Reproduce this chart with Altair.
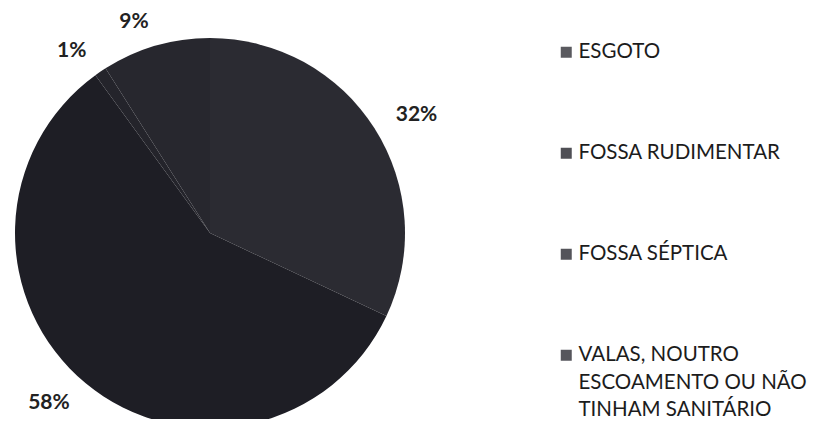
import altair as alt
import pandas as pd

categories = [
    "ESGOTO",
    "FOSSA RUDIMENTAR",
    "FOSSA SÉPTICA",
    "VALAS, NOUTRO|ESCOAMENTO OU NÃO|TINHAM SANITÁRIO",
]
values = [32, 58, 1, 9]
labels = ["32%", "58%", "1%", "9%"]
colors = ["#2b2b32", "#1e1e25", "#24242b", "#27272e"]

df = pd.DataFrame({
    "categoria": categories,
    "valor": values,
    "rotulo": labels,
    "ordem": list(range(len(categories))),
})

cx, cy = 202, 225

pie = alt.Chart(df).mark_arc(outerRadius=195, stroke=None).encode(
    theta=alt.Theta("valor:Q", stack=True),
    order=alt.Order("ordem:Q"),
    x=alt.value(cx),
    y=alt.value(cy),
    color=alt.Color(
        "categoria:N",
        sort=categories,
        scale=alt.Scale(domain=categories, range=colors),
        legend=alt.Legend(
            title=None,
            orient="none",
            legendX=548,
            legendY=34,
            padding=0,
            symbolType="square",
            symbolSize=121,
            symbolOpacity=0.78,
            symbolStrokeWidth=0,
            labelFont="Lato",
            labelFontSize=20.5,
            labelColor="#1c1c1c",
            labelOffset=2,
            labelLimit=400,
            rowPadding=80,
            labelExpr="split(datum.label, '|')",
        ),
    ),
)

lab_base = (
    alt.Chart(df)
    .transform_window(acum="sum(valor)", sort=[alt.SortField("ordem")])
    .transform_joinaggregate(total="sum(valor)")
    .transform_calculate(meio="(datum.acum - datum.valor / 2) / datum.total")
)

def label_layer(filt, align):
    return lab_base.transform_filter(filt).mark_text(
        radius=220, align=align, baseline="middle",
        font="Lato", fontSize=21, fontWeight="bold", color="#222222",
    ).encode(
        theta=alt.Theta("meio:Q", scale=alt.Scale(domain=[0, 1]), stack=None),
        x=alt.value(cx),
        y=alt.value(cy),
        text="rotulo:N",
    )

right = label_layer("datum.meio < 0.5", "left")
left = label_layer("datum.meio >= 0.5", "right")

chart = (
    alt.layer(pie, right, left)
    .resolve_scale(theta="independent")
    .properties(width=799, height=411, padding=0, autosize=alt.AutoSizeParams(type="none"))
    .configure(style={"guide-label": {"lineHeight": 27.5}})
    .configure_view(stroke=None)
)

chart.save("out.html", embed_options={"renderer": "svg", "actions": False})
